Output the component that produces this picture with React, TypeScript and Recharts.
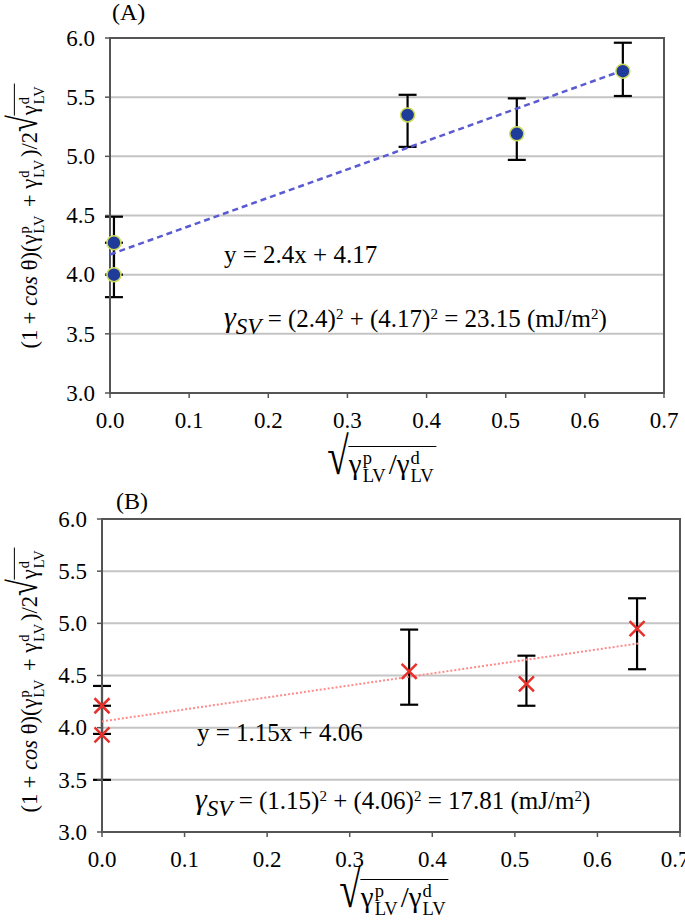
import React from "react";
import {
  ScatterChart,
  Scatter,
  XAxis,
  YAxis,
  CartesianGrid,
  ErrorBar,
  ReferenceArea,
} from "recharts";

const xTicks = [0, 0.1, 0.2, 0.3, 0.4, 0.5, 0.6, 0.7];
const yTicks = [3.0, 3.5, 4.0, 4.5, 5.0, 5.5, 6.0];

// panel A
const xA = [0.005, 0.005, 0.376, 0.514, 0.648];
const yA = [4.27, 4.0, 5.35, 5.19, 5.72];
const loA = [4.0, 3.81, 5.08, 4.97, 5.51];
const hiA = [4.49, 4.27, 5.52, 5.49, 5.96];
const fitA = { slope: 2.4, intercept: 4.17, xEnd: 0.648 };

// panel B
const xB = [0.0, 0.0, 0.372, 0.514, 0.648];
const yB = [4.21, 3.93, 4.54, 4.42, 4.95];
const loB = [3.94, 3.5, 4.22, 4.21, 4.56];
const hiB = [4.4, 4.21, 4.94, 4.69, 5.24];
const fitB = { slope: 1.15, intercept: 4.06, xEnd: 0.65 };

const SERIF = "Liberation Serif, serif";

const toRows = (xs: number[], ys: number[], lo: number[], hi: number[]) =>
  xs.map((x, i) => ({ x, y: ys[i], err: [ys[i] - lo[i], hi[i] - ys[i]] }));

const fitRows = (f: { slope: number; intercept: number; xEnd: number }) => [
  { x: 0, y: f.intercept },
  { x: f.xEnd, y: f.intercept + f.slope * f.xEnd },
];

const Dot = (p: any) => (
  <circle cx={p.cx} cy={p.cy} r={7} fill="#1f3c9a" stroke="#cfdc5a" strokeWidth={1.5} />
);

const Cross = (p: any) => {
  const s = 7.5;
  return (
    <g stroke="#e8302a" strokeWidth={2.5}>
      <line x1={p.cx - s} y1={p.cy - s} x2={p.cx + s} y2={p.cy + s} />
      <line x1={p.cx - s} y1={p.cy + s} x2={p.cx + s} y2={p.cy - s} />
    </g>
  );
};

const Empty = () => <g />;

const XTick = (p: any) => (
  <text x={p.x} y={p.y} dy="0.71em" textAnchor="middle" fontFamily={SERIF} fontSize={23} fill="#000">
    {Number(p.payload.value).toFixed(1)}
  </text>
);

const YTick = (p: any) => (
  <text x={p.x} y={p.y} dy="0.34em" textAnchor="end" fontFamily={SERIF} fontSize={23} fill="#000">
    {Number(p.payload.value).toFixed(1)}
  </text>
);

// gamma with stacked super/subscript
const G = ({ sup, sub }: { sup: string; sub: string }) => (
  <span style={{ whiteSpace: "nowrap" }}>
    γ
    <span
      style={{
        display: "inline-flex",
        flexDirection: "column",
        verticalAlign: "middle",
        fontSize: "0.64em",
        lineHeight: 1,
        marginLeft: 1,
        marginRight: 3,
      }}
    >
      <span>{sup}</span>
      <span>{sub}</span>
    </span>
  </span>
);

const Root = ({ children }: { children: React.ReactNode }) => (
  <span style={{ whiteSpace: "nowrap" }}>
    <span
      style={{
        display: "inline-block",
        fontSize: "1.35em",
        transform: "scaleY(1.35)",
        transformOrigin: "50% 80%",
      }}
    >
      √
    </span>
    <span style={{ borderTop: "1.5px solid #000", paddingTop: 2, display: "inline-block", lineHeight: 1.1 }}>
      {children}
    </span>
  </span>
);

const YLabel = ({ cx, cy }: { cx: number; cy: number }) => (
  <div
    style={{
      position: "absolute",
      left: cx,
      top: cy,
      transform: "translate(-50%,-50%) rotate(-90deg)",
      whiteSpace: "nowrap",
      fontFamily: SERIF,
      fontSize: 22.5,
    }}
  >
    (1 + <i>cos</i> θ)(<G sup="p" sub="LV" /> + <G sup="d" sub="LV" />)/2
    <Root>
      <G sup="d" sub="LV" />
    </Root>
  </div>
);

const XLabel = ({ cx, top }: { cx: number; top: number }) => (
  <div
    style={{
      position: "absolute",
      left: cx,
      top,
      transform: "translateX(-50%)",
      whiteSpace: "nowrap",
      fontFamily: SERIF,
      fontSize: 29,
    }}
  >
    <Root>
      <G sup="p" sub="LV" />/<G sup="d" sub="LV" />
    </Root>
  </div>
);

const Txt = ({ left, top, size = 25, children }: { left: number; top: number; size?: number; children: React.ReactNode }) => (
  <div style={{ position: "absolute", left, top, fontFamily: SERIF, fontSize: size, whiteSpace: "nowrap", lineHeight: 1 }}>
    {children}
  </div>
);

const sup2 = { fontSize: 15, verticalAlign: "0.55em", lineHeight: 0 } as const;

const Gsv = ({ a, b, total }: { a: string; b: string; total: string }) => (
  <>
    <i style={{ fontSize: 30 }}>γ</i>
    <i style={{ fontSize: 23, verticalAlign: "-0.3em", lineHeight: 0 }}>SV</i> = ({a})
    <span style={sup2}>2</span> + ({b})<span style={sup2}>2</span> = {total} (mJ/m
    <span style={sup2}>2</span>)
  </>
);

type PanelProps = {
  width: number;
  height: number;
  margin: { top: number; right: number; bottom: number; left: number };
  rows: any[];
  fit: any[];
  fitStroke: string;
  fitDash: string;
  fitWidth: number;
  shape: any;
};

const Panel = ({ width, height, margin, rows, fit, fitStroke, fitDash, fitWidth, shape }: PanelProps) => (
  <ScatterChart width={width} height={height} margin={margin}>
    <CartesianGrid vertical={false} stroke="#c4c4c4" strokeWidth={2} />
    <ReferenceArea x1={0} x2={0.7} y1={3} y2={6} fill="none" stroke="#555" strokeWidth={2} />
    <XAxis
      type="number"
      dataKey="x"
      domain={[0, 0.7]}
      ticks={xTicks}
      tick={XTick}
      axisLine={{ stroke: "#555", strokeWidth: 2 }}
      tickLine={{ stroke: "#555", strokeWidth: 1.5 }}
      tickSize={5}
      tickMargin={14}
      height={40}
    />
    <YAxis
      type="number"
      dataKey="y"
      domain={[3, 6]}
      ticks={yTicks}
      tick={YTick}
      axisLine={{ stroke: "#555", strokeWidth: 2 }}
      tickLine={{ stroke: "#555", strokeWidth: 1.5 }}
      tickSize={5}
      tickMargin={10}
      width={60}
    />
    <Scatter
      data={fit}
      line={{ stroke: fitStroke, strokeWidth: fitWidth, strokeDasharray: fitDash }}
      shape={Empty}
      isAnimationActive={false}
    />
    <Scatter data={rows} shape={shape} isAnimationActive={false}>
      <ErrorBar dataKey="err" direction="y" width={9} stroke="#000" strokeWidth={2.2} />
    </Scatter>
  </ScatterChart>
);

export default function App() {
  return (
    <div style={{ position: "absolute", left: 0, top: 0, width: 685, height: 924, background: "#fff" }}>
      <div style={{ position: "absolute", left: 0, top: 0 }}>
        <Panel
          width={685}
          height={460}
          margin={{ top: 38, right: 21, bottom: 27, left: 50 }}
          rows={toRows(xA, yA, loA, hiA)}
          fit={fitRows(fitA)}
          fitStroke="#5a5ad2"
          fitDash="6 4"
          fitWidth={2.5}
          shape={Dot}
        />
      </div>
      <div style={{ position: "absolute", left: 0, top: 460 }}>
        <Panel
          width={685}
          height={464}
          margin={{ top: 59, right: 5, bottom: 52, left: 42 }}
          rows={toRows(xB, yB, loB, hiB)}
          fit={fitRows(fitB)}
          fitStroke="#ff8a8a"
          fitDash="2 2"
          fitWidth={2}
          shape={Cross}
        />
      </div>

      <Txt left={112} top={0} size={24}>(A)</Txt>
      <Txt left={116} top={489} size={24}>(B)</Txt>

      <YLabel cx={28} cy={216} />
      <YLabel cx={28} cy={680} />
      <XLabel cx={382} top={438} />
      <XLabel cx={394} top={871} />

      <Txt left={224} top={242}>y = 2.4x + 4.17</Txt>
      <Txt left={224} top={302}>
        <Gsv a="2.4" b="4.17" total="23.15" />
      </Txt>
      <Txt left={197} top={720}>y = 1.15x + 4.06</Txt>
      <Txt left={195} top={784}>
        <Gsv a="1.15" b="4.06" total="17.81" />
      </Txt>
    </div>
  );
}
